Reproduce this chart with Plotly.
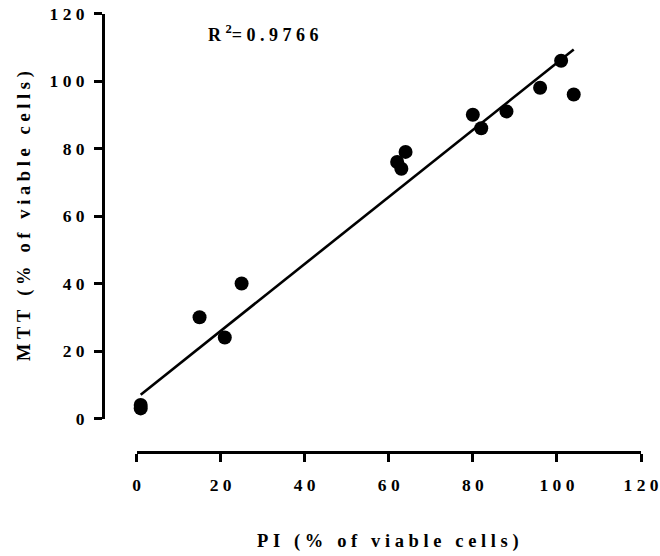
import numpy as np
import plotly.graph_objects as go

# Data
pi_viable = [1, 1, 15, 21, 25, 62, 63, 64, 80, 82, 88, 96, 101, 104]
mtt_viable = [3, 4, 30, 24, 40, 76, 74, 79, 90, 86, 91, 98, 106, 96]
fit_slope = 0.993
fit_intercept = 6.06
r_squared = "0.9766"
tick_values = [0, 20, 40, 60, 80, 100, 120]
tick_labels = ["0", "20", "40", "60", "80", "100", "120"]
x_title = "PI (% of viable cells)"
y_title = "MTT (% of viable cells)"

W, H = 660, 556
FONT = "Liberation Serif, Times New Roman, serif"
NB = "\u00a0"


def spaced(s, gap=NB, word_gap=NB + NB + NB):
    # emulate the wide letter spacing of the original typography
    words = s.split(" ")
    return word_gap.join(gap.join(list(w)) for w in words)


fit_x = np.array([min(pi_viable), max(pi_viable)], dtype=float)
fit_y = fit_slope * fit_x + fit_intercept

fig = go.Figure()
fig.add_trace(go.Scatter(
    x=fit_x, y=fit_y, mode="lines",
    line=dict(color="black", width=2.6),
    cliponaxis=False, showlegend=False, hoverinfo="skip"))
fig.add_trace(go.Scatter(
    x=pi_viable, y=mtt_viable, mode="markers",
    marker=dict(color="black", size=14, line=dict(width=0)),
    cliponaxis=False, showlegend=False))

tick_text = [spaced(t) for t in tick_labels]
tick_font = dict(family=FONT, size=17.5, color="black", weight="bold")
title_font = dict(family=FONT, size=18.5, color="black", weight="bold")

x0, x1 = 136.5, 641.0
y0, y1 = 418.5, 13.5
fig.update_layout(
    width=W, height=H,
    margin=dict(l=0, r=0, t=0, b=0, autoexpand=False),
    paper_bgcolor="white", plot_bgcolor="white",
    xaxis=dict(
        domain=[x0 / W, x1 / W], range=[0, 120],
        anchor="free", position=1 - 452 / H,
        showline=True, linecolor="black", linewidth=3,
        ticks="outside", ticklen=8, tickwidth=3, tickcolor="black",
        tickvals=tick_values, ticktext=tick_text, tickfont=tick_font,
        ticklabelstandoff=8,
        showgrid=False, zeroline=False, automargin=False),
    yaxis=dict(
        domain=[1 - y0 / H, 1 - y1 / H], range=[0, 120],
        anchor="free", position=103 / W,
        showline=True, linecolor="black", linewidth=3,
        ticks="outside", ticklen=8, tickwidth=3, tickcolor="black",
        tickvals=tick_values, ticktext=tick_text, tickfont=tick_font,
        ticklabelstandoff=6,
        showgrid=False, zeroline=False, automargin=False),
    annotations=[
        dict(text="R" + NB + "<sup>2</sup>=" + NB + spaced(r_squared),
             x=206 / W, y=1 - 34 / H, xref="paper", yref="paper",
             xanchor="left", yanchor="middle", showarrow=False,
             font=dict(family=FONT, size=18, color="black", weight="bold")),
        dict(text=spaced(x_title), x=388 / W, y=1 - 541 / H,
             xref="paper", yref="paper", xanchor="center", yanchor="middle",
             showarrow=False, font=title_font),
        dict(text=spaced(y_title), x=24 / W, y=1 - 216 / H, textangle=-90,
             xref="paper", yref="paper", xanchor="center", yanchor="middle",
             showarrow=False, font=title_font),
    ],
)

fig.write_html(
    "out.html",
    config={"displayModeBar": False},
    post_script="document.body.style.margin='0px';"
                "document.body.style.overflow='hidden';")
